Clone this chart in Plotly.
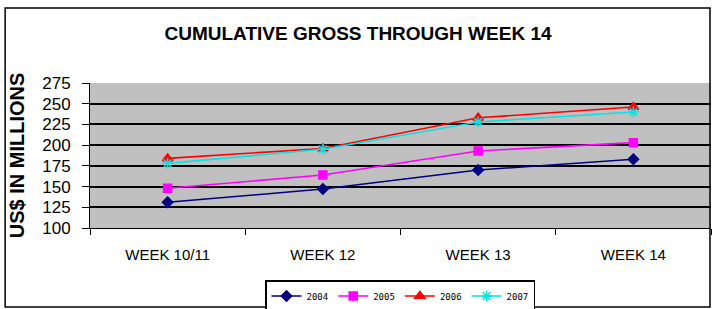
import plotly.graph_objects as go

categories = ["WEEK 10/11", "WEEK 12", "WEEK 13", "WEEK 14"]
years = ["2004", "2005", "2006", "2007"]
v2004 = [131, 147, 170, 183]
v2005 = [148, 164, 193, 203]
v2006 = [184, 196, 233, 246]
v2007 = [178, 195, 228, 240]
yticks = [100, 125, 150, 175, 200, 225, 250, 275]

series = [v2004, v2005, v2006, v2007]
colors = ["#000080", "#FF00FF", "#FF0000", "#00E5E5"]
symbols = ["diamond", "square", "triangle-up", "asterisk-open"]
sizes = [8, 8, 9, 9]

FONT = "Liberation Sans Narrow, Arial Narrow, Liberation Sans, Arial, sans-serif"

fig = go.Figure()
for name, vals, c, s, sz in zip(years, series, colors, symbols, sizes):
    fig.add_trace(go.Scatter(
        x=categories, y=vals, name=name, mode="lines+markers",
        line=dict(color=c, width=1.6),
        marker=dict(symbol=s, size=sz, color=c, line=dict(color=c, width=1.5)),
    ))

fig.update_layout(
    width=712, height=309,
    margin=dict(l=90, r=1, t=83, b=81, autoexpand=False),
    paper_bgcolor="white", plot_bgcolor="#C0C0C0",
    font=dict(family=FONT, size=12, color="black"),
    title=dict(text="<b>CUMULATIVE GROSS THROUGH WEEK 14</b>", x=358/712, xanchor="center",
               y=1 - 33/309, yanchor="middle", font=dict(size=19, family=FONT)),
    showlegend=True,
    legend=dict(orientation="h", xref="container", yref="container",
                x=400/712, xanchor="center", y=1 - 280/309, yanchor="top",
                bordercolor="black", borderwidth=1.5, bgcolor="white",
                font=dict(size=9, family="DejaVu Sans Mono, monospace"),
                itemwidth=30, tracegroupgap=0),
    xaxis=dict(type="category", tickson="boundaries", ticks="outside", ticklen=6,
               tickcolor="black", showgrid=False, showline=True, linecolor="black",
               linewidth=1, tickfont=dict(size=15, family=FONT), range=[-0.5, 3.5],
               ticklabelstandoff=13),
    yaxis=dict(range=[100, 275], tickvals=yticks, ticks="outside", ticklen=7,
               tickcolor="black", showgrid=True, gridcolor="black", gridwidth=1.8,
               showline=True, linecolor="black", linewidth=1,
               tickfont=dict(size=17, family=FONT), ticklabelstandoff=8,
               title=dict(text="<b>US$ IN MILLIONS</b>", font=dict(size=20, family=FONT),
                          standoff=12),
               zeroline=False),
)

# outer chart border
fig.add_shape(type="rect", xref="paper", yref="paper",
              x0=(5 - 90) / 622, x1=(711 - 90) / 622,
              y0=(228 - 307) / 145, y1=(228 - 8) / 145,
              line=dict(color="black", width=1.5), fillcolor="rgba(0,0,0,0)", layer="below")

fig.write_html("out.html", config={"displayModeBar": False},
               post_script="document.body.style.margin='0';document.body.style.overflow='hidden';")
